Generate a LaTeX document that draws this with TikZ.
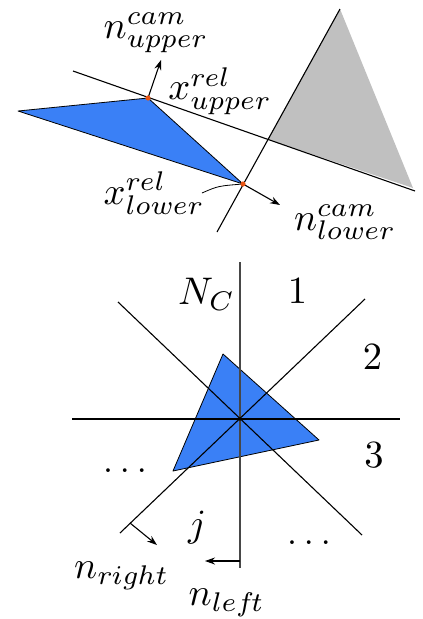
\RequirePackage{fix-cm}
\documentclass[tikz,border=0pt]{standalone}
\usetikzlibrary{arrows.meta}
\definecolor{triblue}{RGB}{58,128,246}
\definecolor{trigray}{RGB}{192,192,192}
\definecolor{dotorange}{RGB}{232,84,20}
\font\lblmi=cmmi10 at 38.5pt
\font\lblsmi=cmmi7 at 27pt
\font\lblrm=cmr10 at 38.5pt
\newcommand\mylab[3]{$\hbox{\lblmi #1}^{\hbox{\lblsmi #2}}_{\hbox{\lblsmi #3}}$}
\newcommand\mysub[2]{$\hbox{\lblmi #1}_{\hbox{\lblsmi #2}}$}
\begin{document}
\begin{tikzpicture}[x=1pt,y=-1pt,line width=1.1pt,
  lbl/.style={inner sep=0pt,font=\fontsize{38.5}{46}\selectfont},
  vec/.style={-{Stealth[length=10pt,width=7pt]}},
  bluetri/.style={fill=triblue,draw=black,line width=0.8pt,line join=round},
  axisline/.style={draw=black!72,line width=1.6pt},
  hit/.style={fill=dotorange}]
\useasboundingbox (0,0) rectangle (423,619);
% ---------- top ----------
\coordinate (UL1) at (73,71);
\coordinate (UL2) at (415,191);
\coordinate (SL1) at (340,9);
\coordinate (SL2) at (217,232);
\coordinate (GI) at (intersection of UL1--UL2 and SL1--SL2);
\coordinate (GR) at (413,188);
\coordinate (BA) at (18,111);
\coordinate (BU) at (148,98);
\coordinate (BL) at (243,184);
\coordinate (NU) at (161,60);
\coordinate (NL) at (280,205);
\coordinate (LT) at (202,193);
\fill[trigray] (SL1) -- (GI) -- (GR) -- cycle;
\draw[bluetri] (BA) -- (BU) -- (BL) -- cycle;
\draw (UL1) -- (UL2);
\draw (SL1) -- (SL2);
\draw[vec] (BU) -- (NU);
\draw[vec] (BL) -- (NL);
\draw[line width=0.8pt] (LT) .. controls (218,186) .. (BL);
\fill[hit] (BU) circle (2.6);
\fill[hit] (BL) circle (2.6);
\node[lbl] (nup) at (155,33) {\mylab{n}{cam}{upper}};
\node[lbl] (xup) at (219,91) {\mylab{x}{rel}{upper}};
\node[lbl] (xlo) at (153,193) {\mylab{x}{rel}{lower}};
\node[lbl] (nlo) at (344,222) {\mylab{n}{cam}{lower}};
% ---------- bottom ----------
\coordinate (C) at (240,419);
\coordinate (V1) at (240,262);
\coordinate (V2) at (240,568);
\coordinate (H1) at (72,419);
\coordinate (H2) at (400,419);
\coordinate (D1a) at (118,302);
\coordinate (D1b) at (362,535);
\coordinate (D2a) at (120,533);
\coordinate (D2b) at (365,299);
\coordinate (T1) at (223,354);
\coordinate (T2) at (319,440);
\coordinate (T3) at (173,471);
\coordinate (RS) at (130,523);
\coordinate (RE) at (157,545);
\coordinate (LS) at (240,561);
\coordinate (LE) at (205,561);
\draw[bluetri] (T1) -- (T2) -- (T3) -- cycle;
\draw[axisline] (V1) -- (V2);
\draw (H1) -- (H2);
\draw (D1a) -- (D1b);
\draw (D2a) -- (D2b);
\fill (C) circle (1.8);
\draw[vec] (RS) -- (RE);
\draw[vec] (LS) -- (LE);
\node[lbl] (nc) at (205,294) {\mysub{N}{C}};
\node[lbl] (s1) at (297.5,291) {\lblrm 1};
\node[lbl] (s2) at (372.5,357.5) {\lblrm 2};
\node[lbl] (s3) at (374,455.5) {\lblrm 3};
\node[lbl] (dl) at (125,471) {$\ldots$};
\node[lbl] (sj) at (196,528) {\lblmi j};
\node[lbl] (dr) at (309,543) {$\ldots$};
\node[lbl] (nr) at (121,576) {\mysub{n}{right}};
\node[lbl] (nlf) at (226,603) {\mysub{n}{left}};
\end{tikzpicture}
\end{document}
